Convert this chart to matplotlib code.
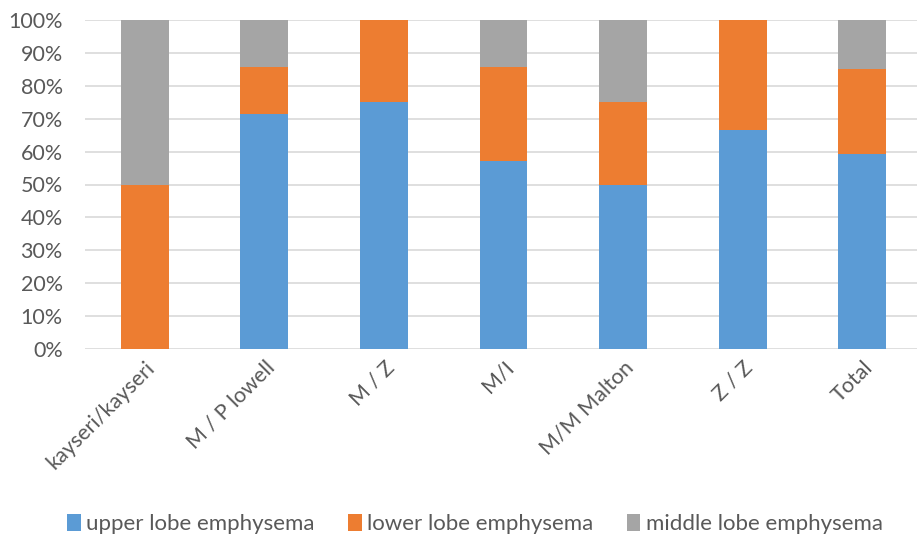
import matplotlib.pyplot as plt
import numpy as np

# data (percent of each group)
categories = ["kayseri/kayseri", "M / P lowell", "M / Z", "M/I", "M/M Malton", "Z / Z", "Total"]
upper = [0, 71.4, 75.0, 57.1, 50.0, 66.7, 59.3]
lower = [50.0, 14.3, 25.0, 28.6, 25.0, 33.3, 25.9]
middle = [50.0, 14.3, 0, 14.3, 25.0, 0, 14.8]

series_names = ["upper lobe emphysema", "lower lobe emphysema", "middle lobe emphysema"]
colors = ["#5B9BD5", "#ED7D31", "#A5A5A5"]
text_col = "#595959"

plt.rcParams["font.family"] = ["Lato", "DejaVu Sans"]

fig = plt.figure(figsize=(9.17, 5.42), dpi=100)
ax = fig.add_axes([85 / 917, 1 - 349 / 542, 837 / 917, 329 / 542])

x = np.arange(len(categories))
bottom = np.zeros(len(categories))
for vals, name, c in zip([upper, lower, middle], series_names, colors):
    ax.bar(x, vals, width=0.4, bottom=bottom, color=c, label=name, zorder=3)
    bottom += np.array(vals)

ax.set_xlim(-0.5, len(categories) - 0.5)
ax.set_ylim(0, 100)
ax.set_yticks(range(0, 101, 10))
ax.set_yticklabels([f"{v}%" for v in range(0, 101, 10)], fontsize=15.5, color=text_col)
ax.yaxis.grid(True, color="#D9D9D9", linewidth=1.2, zorder=0)
ax.tick_params(axis="both", length=0)
ax.tick_params(axis="y", pad=16)

ax.set_xticks(x)
ax.set_xticklabels(categories, rotation=45, ha="right", rotation_mode="anchor",
                   fontsize=15.5, color=text_col)
ax.tick_params(axis="x", pad=6)

for s in ax.spines.values():
    s.set_visible(False)

leg = fig.legend(loc="center", bbox_to_anchor=(0.518, 1 - 524 / 542), ncol=3, frameon=False,
                 fontsize=16, handlelength=0.6, handleheight=0.8, handletextpad=0.25,
                 columnspacing=1.5)
for t in leg.get_texts():
    t.set_color(text_col)

fig.savefig("out.png", dpi=100)
